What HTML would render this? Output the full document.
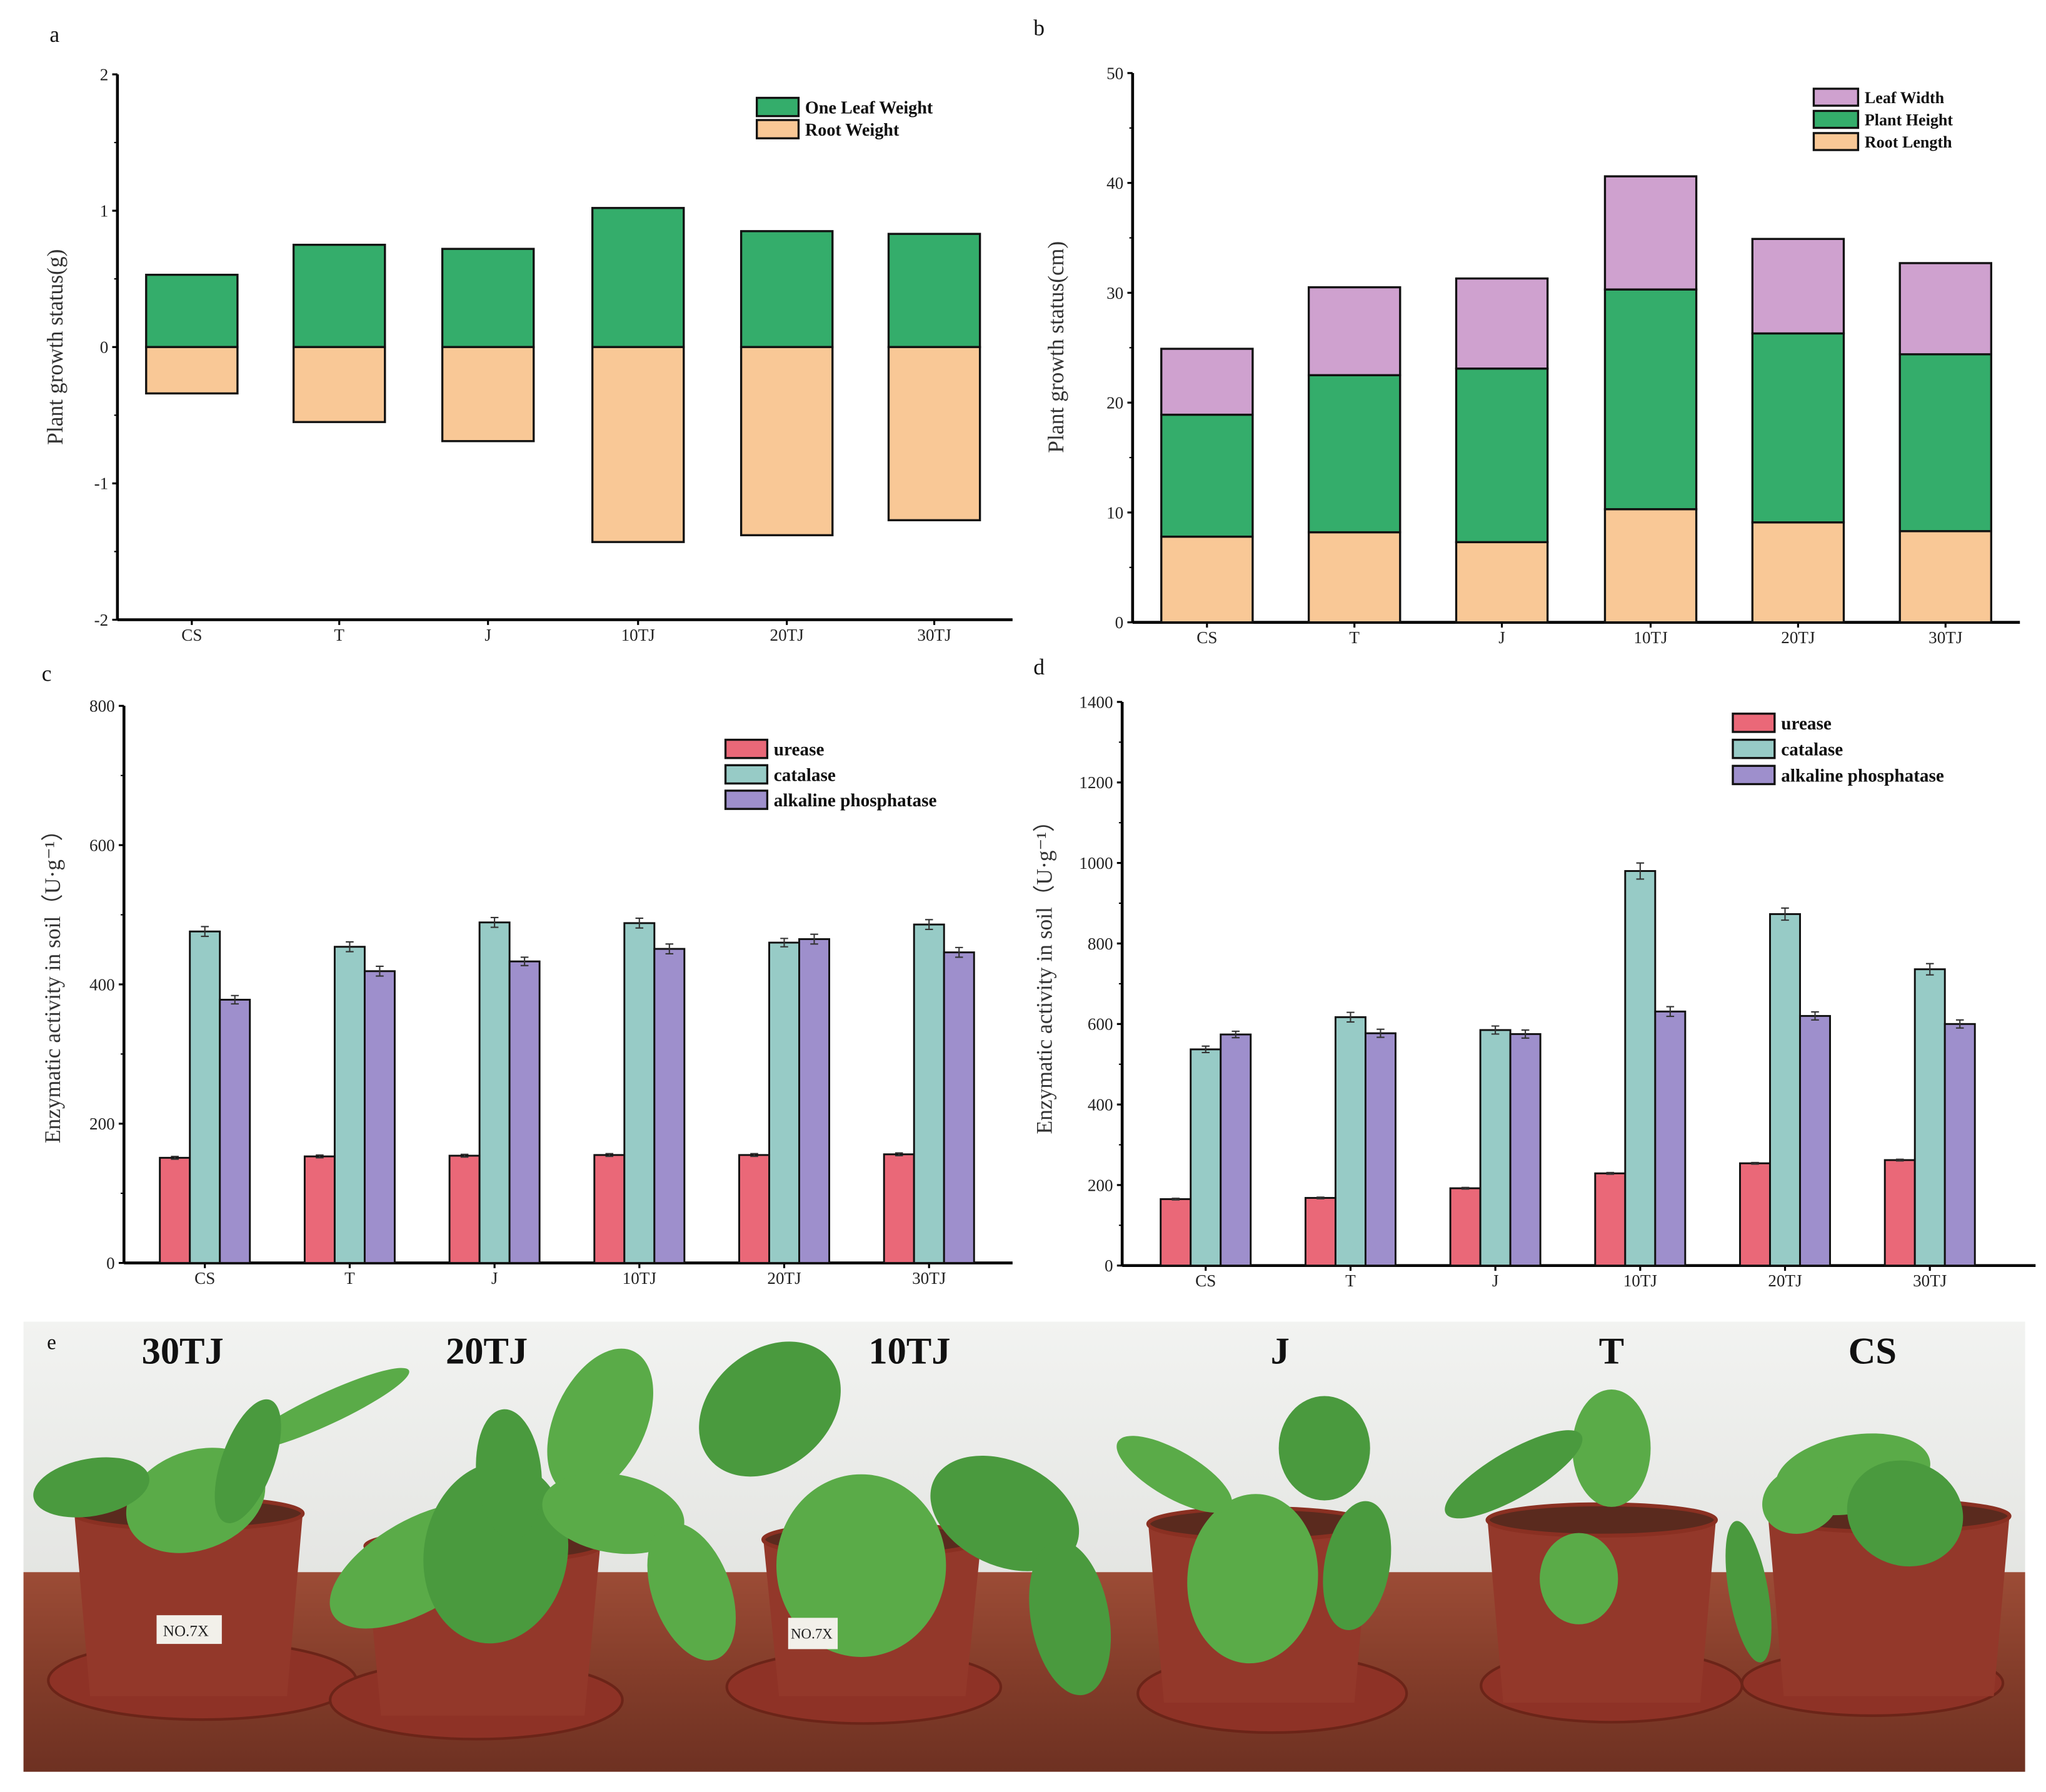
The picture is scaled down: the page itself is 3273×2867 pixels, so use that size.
<!DOCTYPE html>
<html><head><meta charset="utf-8"><style>
html,body{margin:0;padding:0;background:#fff;}
svg{display:block;font-family:"Liberation Serif",serif;}
</style></head><body>
<svg id="fig" xmlns="http://www.w3.org/2000/svg" width="3273" height="2867" viewBox="0 0 1568 1373.5" preserveAspectRatio="none">
<defs>
<linearGradient id="wall" x1="0" y1="0" x2="0" y2="1"><stop offset="0" stop-color="#f2f3f1"/><stop offset="1" stop-color="#e4e5e2"/></linearGradient>
<linearGradient id="table" x1="0" y1="0" x2="0" y2="1"><stop offset="0" stop-color="#9c4c36"/><stop offset="0.5" stop-color="#843d2a"/><stop offset="1" stop-color="#6e3122"/></linearGradient>
</defs>
<g id="photo">
<rect x="18" y="1013" width="1534" height="195" fill="url(#wall)"/>
<rect x="18" y="1205" width="1534" height="153" fill="url(#table)"/>
</g>
</svg>
<script>
const NS="http://www.w3.org/2000/svg";
const svg=document.getElementById('fig');
function mk(tag,attrs,parent,text){const e=document.createElementNS(NS,tag);for(const k in attrs)e.setAttribute(k,attrs[k]);if(text!==undefined)e.textContent=text;(parent||svg).appendChild(e);return e;}

// ---------- data ----------
const categories=["CS","T","J","10TJ","20TJ","30TJ"];
const leafWeight=[0.53,0.75,0.72,1.02,0.85,0.83];
const rootWeight=[-0.34,-0.55,-0.69,-1.43,-1.38,-1.27];
const rootLength=[7.8,8.2,7.3,10.3,9.1,8.3];
const plantHeight=[11.1,14.3,15.8,20.0,17.2,16.1];
const leafWidth=[6.0,8.0,8.2,10.3,8.6,8.3];
const ureaseC=[151,153,154,155,155,156];
const catalaseC=[476,454,489,488,460,486];
const alkC=[378,419,433,451,465,446];
const errC1=[2,2,2,2,2,2];
const errC2=[7,7,7,7,6,7];
const errC3=[6,7,6,7,7,7];
const ureaseD=[165,168,192,229,254,262];
const catalaseD=[537,617,585,980,873,736];
const alkD=[574,577,575,631,620,600];
const errD1=[2,2,2,2,2,2];
const errD2=[8,12,10,20,15,14];
const errD3=[8,10,10,12,10,10];
const ticksA=[-2,-1,0,1,2];
const ticksB=[0,10,20,30,40,50];
const ticksC=[0,200,400,600,800];
const ticksD=[0,200,400,600,800,1000,1200,1400];

// ---------- axis helper ----------
function axes(g,x0,x1,yTop,yBot,vmin,vmax,ticks,cx){
  const y=v=>yBot-(v-vmin)/(vmax-vmin)*(yBot-yTop);
  const ax=mk('line',{x1:x0,y1:yTop,x2:x0,y2:yBot,stroke:'#000','stroke-width':2.2},g);
  
  
  const bx=mk('line',{x1:x0,y1:yBot,x2:x1,y2:yBot,stroke:'#000','stroke-width':2.2},g);
  
  
  ticks.forEach(t=>{
    mk('line',{x1:x0-4,y1:y(t),x2:x0,y2:y(t),stroke:'#000','stroke-width':1.5},g);
    const lb=mk('text',{x:x0-7,y:y(t)+4.5,'text-anchor':'end','font-size':13,fill:'#222'},g,String(t));
    
    
  });
  for(let i=0;i<ticks.length-1;i++){const m=(ticks[i]+ticks[i+1])/2;mk('line',{x1:x0-2.5,y1:y(m),x2:x0,y2:y(m),stroke:'#000','stroke-width':1},g);}
  cx.forEach((c,i)=>{
    mk('line',{x1:c,y1:yBot,x2:c,y2:yBot+4,stroke:'#000','stroke-width':1.5},g);
    const lb=mk('text',{x:c,y:yBot+16,'text-anchor':'middle','font-size':13,fill:'#222'},g,categories[i]);
    
    
  });
  return y;
}
function ylabel(g,x,y,txt){const t=mk('text',{x:x,y:y,'text-anchor':'middle','font-size':17,fill:'#333',transform:`rotate(-90 ${x} ${y})`},g,txt);return t;}
function panelLabel(x,y,s){const t=mk('text',{x:x,y:y,'font-size':17,fill:'#111'},svg,s);}
function legend(g,x,y0,dy,w,h,items,fs){
  items.forEach((it,i)=>{
    const r=mk('rect',{x:x,y:y0+i*dy,width:w,height:h,fill:it[1],stroke:'#111','stroke-width':1.6},g);
    
    
    const t=mk('text',{x:x+w+5,y:y0+i*dy+h-2,'font-size':fs,'font-weight':'bold',fill:'#111'},g,it[0]);
    
    
  });
}
const GREEN='#34ad6b',PEACH='#f9c896',PINK='#ea6878',TEAL='#97cbc6',PURP='#9e8fcc';

// ---------- panel a ----------
panelLabel(38,32,'a');
const ga=mk('g',{});


const cxA=[147,260,374,489,603,716];
const ya=axes(ga,90,776,57,475,-2,2,ticksA,cxA);
categories.forEach((c,i)=>{
  const w=70,x=cxA[i]-w/2;
  const r1=mk('rect',{x:x,y:ya(leafWeight[i]),width:w,height:ya(0)-ya(leafWeight[i]),fill:GREEN,stroke:'#111','stroke-width':1.6},ga);
  
  
  const r2=mk('rect',{x:x,y:ya(0),width:w,height:ya(rootWeight[i])-ya(0),fill:PEACH,stroke:'#111','stroke-width':1.6},ga);
  
  
});
ylabel(ga,48,266,'Plant growth status(g)');
legend(ga,580,75,17,32,14,[['One Leaf Weight',GREEN],['Root Weight',PEACH]],13.5);

// ---------- panel b ----------
panelLabel(792,27,'b');
const gb=mk('g',{});


const cxB=[925,1038,1151,1265,1378,1491];
const yb=axes(gb,868,1548,56,477,0,50,ticksB,cxB);
categories.forEach((c,i)=>{
  const w=70,x=cxB[i]-w/2;
  const segs=[[rootLength[i],PEACH,'root-length'],[plantHeight[i],GREEN,'plant-height'],[leafWidth[i],'#cfa1cf','leaf-width']];
  let base=0;
  segs.forEach(s=>{
    const r=mk('rect',{x:x,y:yb(base+s[0]),width:w,height:yb(base)-yb(base+s[0]),fill:s[1],stroke:'#111','stroke-width':1.6},gb);
    
    
    base+=s[0];
  });
});
ylabel(gb,815,266,'Plant growth status(cm)');
legend(gb,1390,68,17,34,13,[['Leaf Width','#cfa1cf'],['Plant Height',GREEN],['Root Length',PEACH]],12.5);

// ---------- grouped charts ----------
function grouped(g,cx,y,series,errs,bw){
  categories.forEach((c,i)=>{
    series.forEach((s,j)=>{
      const x=cx[i]+(j-1.5)*bw;
      const v=s[0][i];
      const r=mk('rect',{x:x,y:y(v),width:bw,height:y(0)-y(v),fill:s[1],stroke:'#111','stroke-width':1.4},g);
      
      
      const e=errs[j][i],m=x+bw/2;
      mk('path',{d:`M${m} ${y(v+e)}V${y(v-e)}M${m-3} ${y(v+e)}H${m+3}M${m-3} ${y(v-e)}H${m+3}`,stroke:'#333','stroke-width':1,fill:'none'},g);
    });
  });
}
// panel c
panelLabel(32,522,'c');
const gc=mk('g',{});


const cxC=[157,268,379,490,601,712];
const yc=axes(gc,95,776,541,968,0,800,ticksC,cxC);
grouped(gc,cxC,yc,[[ureaseC,PINK,'urease'],[catalaseC,TEAL,'catalase'],[alkC,PURP,'alkaline-phosphatase']],[errC1,errC2,errC3],23);
ylabel(gc,46,752,'Enzymatic activity in soil（U·g⁻¹）');
legend(gc,556,567,19.5,32,14,[['urease',PINK],['catalase',TEAL],['alkaline phosphatase',PURP]],14);
// panel d
panelLabel(792,517,'d');
const gd=mk('g',{});


const cxD=[924,1035,1146,1257,1368,1479];
const yd=axes(gd,860,1560,538,970,0,1400,ticksD,cxD);
grouped(gd,cxD,yd,[[ureaseD,PINK,'urease'],[catalaseD,TEAL,'catalase'],[alkD,PURP,'alkaline-phosphatase']],[errD1,errD2,errD3],23);
ylabel(gd,806,745,'Enzymatic activity in soil（U·g⁻¹）');
legend(gd,1328,547,20,32,14,[['urease',PINK],['catalase',TEAL],['alkaline phosphatase',PURP]],14);

// ---------- panel e photo (approximate drawing) ----------
const gp=document.getElementById('photo');
const pots=[
 {n:'30TJ',x0:57,x1:232,top:1160,bot:1300,scx:155,scy:1288,srx:118,sry:30},
 {n:'20TJ',x0:280,x1:460,top:1185,bot:1315,scx:365,scy:1303,srx:112,sry:30},
 {n:'10TJ',x0:585,x1:752,top:1180,bot:1300,scx:662,scy:1293,srx:105,sry:28},
 {n:'J',x0:880,x1:1050,top:1168,bot:1305,scx:975,scy:1298,srx:103,sry:30},
 {n:'T',x0:1140,x1:1315,top:1165,bot:1305,scx:1235,scy:1292,srx:100,sry:28},
 {n:'CS',x0:1355,x1:1540,top:1162,bot:1300,scx:1435,scy:1290,srx:100,sry:25}
];
pots.forEach(p=>{
  const s=mk('ellipse',{cx:p.scx,cy:p.scy,rx:p.srx,ry:p.sry,fill:'#8e3226',stroke:'#6b2418','stroke-width':2},gp);
  
  
  const b=mk('path',{d:`M${p.x0} ${p.top}L${p.x1} ${p.top}L${p.x1-12} ${p.bot}L${p.x0+12} ${p.bot}Z`,fill:'#93382a'},gp);
  
  
  mk('ellipse',{cx:(p.x0+p.x1)/2,cy:p.top,rx:(p.x1-p.x0)/2,ry:12,fill:'#5a2a1e',stroke:'#8a3022','stroke-width':3},gp);
});
const leaves=[
 [150,1150,55,38,-20],[70,1140,45,22,-10],[250,1080,70,12,-25],[190,1120,20,50,20],
 [320,1200,75,35,-30],[380,1190,55,70,10],[460,1090,35,60,25],[390,1130,25,50,-5],[470,1160,55,30,10],
 [590,1080,60,45,-40],[660,1200,65,70,0],[770,1160,60,40,25],[530,1220,30,55,-20],[820,1240,30,60,-10],
 [960,1210,50,65,5],[1015,1110,35,40,0],[900,1130,50,18,30],[1040,1200,25,50,10],
 [1235,1110,30,45,0],[1160,1130,60,18,-30],[1210,1210,30,35,0],[1340,1220,15,55,-10],
 [1420,1130,60,30,-10],[1460,1160,45,40,20],[1380,1150,30,25,-20]
];
leaves.forEach((l,i)=>{
  const e=mk('ellipse',{cx:l[0],cy:l[1],rx:l[2],ry:l[3],fill:i%2?'#4a9a3e':'#5aab48',transform:`rotate(${l[4]} ${l[0]} ${l[1]})`},gp);
  
  
});
mk('rect',{x:120,y:1238,width:50,height:22,fill:'#f2f0ea'},gp);
mk('text',{x:125,y:1254,'font-size':12,fill:'#222'},gp,'NO.7X');
mk('rect',{x:604,y:1240,width:38,height:24,fill:'#f2f0ea'},gp);
mk('text',{x:606,y:1256,'font-size':11,fill:'#222'},gp,'NO.7X');
const pl=mk('text',{x:36,y:1034,'font-size':16,fill:'#111'},gp,'e');


[['30TJ',140],['20TJ',373],['10TJ',697],['J',981],['T',1235],['CS',1435]].forEach(l=>{
  const t=mk('text',{x:l[1],y:1045,'text-anchor':'middle','font-size':29,'font-weight':'bold',fill:'#111'},gp,l[0]);
  
  
});
</script>
</body></html>
